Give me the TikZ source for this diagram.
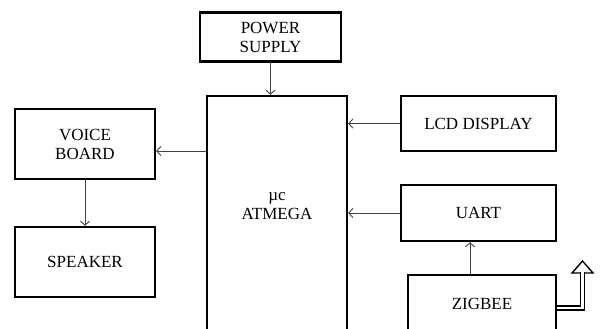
\documentclass[tikz,border=0pt]{standalone}
\usepackage{fontspec}
\setmainfont{Liberation Serif}
\usetikzlibrary{arrows.meta,positioning,calc}

\tikzset{
  block/.style={draw, line width=2.4pt, align=center, inner sep=0pt,
    font=\fontsize{17}{19}\selectfont},
  flow/.style={draw=black!75, line width=0.9pt, -{Straight Barb[length=4pt,width=9pt]}}
}

\begin{document}
\begin{tikzpicture}[x=1pt, y=-1pt]
  \clip (0,0) rectangle (602,329);
  \fill[white] (0,0) rectangle (602,329);
  % blocks
  \node[block, minimum width=141, minimum height=49] (power) at (270.5,37) {POWER\\SUPPLY};
  \node[block, minimum width=140, minimum height=300] (mcu) at (277,246) {};
  \node[font=\fontsize{17}{19}\selectfont, align=center] (mcutext) at (277,206) {µc\\ATMEGA};
  \node[block, minimum width=140, minimum height=70] (voice) at (85,144) {VOICE\\BOARD};
  \node[block, minimum width=140, minimum height=70] (speaker) at (85,262) {SPEAKER};
  \node[block, minimum width=155, minimum height=55] (lcd) at (478.5,123.5) {LCD DISPLAY};
  \node[block, minimum width=155, minimum height=56] (uart) at (478.5,213) {UART};
  \node[block, minimum width=148, minimum height=58] (zig) at (482,304) {ZIGBEE};
  % connectors
  \coordinate (vin) at ($(voice.east)+(0,7)$);
  \draw[flow] (power) -- (mcu.north -| power.south);
  \draw[flow] (mcu.west |- vin) -- (vin);
  \draw[flow] (voice.south) -- (speaker.north);
  \draw[flow] (lcd.west) -- (mcu.east |- lcd.west);
  \draw[flow] (uart.west) -- (mcu.east |- uart.west);
  \draw[flow] ([xshift=-12pt]zig.north) -- ([xshift=-8.5pt]uart.south);
  % wireless output
  \coordinate (out) at (582.5,261);
  \draw[line width=1.4pt, fill=white] ($(out)+(-10.5,12)$) -- (out) -- ($(out)+(10.5,12)$) -- cycle;
  \draw[double, line width=1.3pt, double distance=2.6pt]
    ([yshift=-4pt]zig.east) -| ($(out)+(0,11)$);
\end{tikzpicture}
\end{document}
